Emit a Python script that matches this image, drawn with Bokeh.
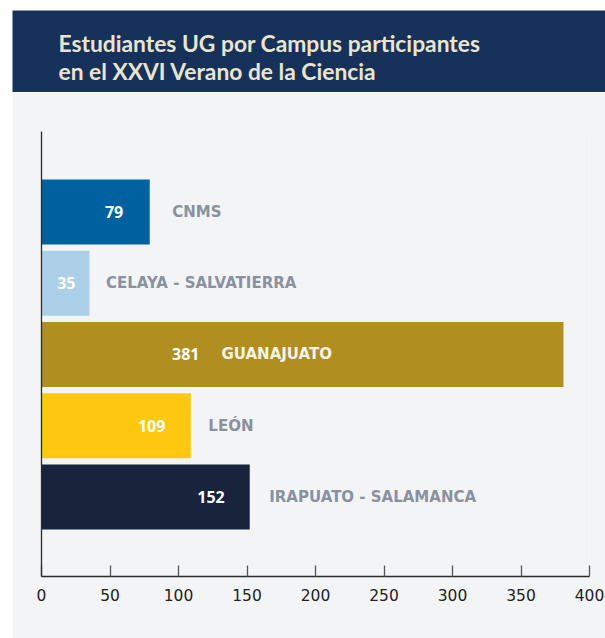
from bokeh.plotting import figure
from bokeh.models import ColumnDataSource, Range1d, FixedTicker, Label, Spacer
from bokeh.layouts import column, row
from bokeh.core.properties import value
from bokeh.embed import file_html
from bokeh.resources import INLINE

# ---- data ----
campus = ["CNMS", "CELAYA - SALVATIERRA", "GUANAJUATO", "LEÓN", "IRAPUATO - SALAMANCA"]
students = [79, 35, 381, 109, 152]
x_ticks = [0, 50, 100, 150, 200, 250, 300, 350, 400]
title_line1 = "Estudiantes UG por Campus participantes"
title_line2 = "en el XXVI Verano de la Ciencia"

# ---- styling ----
bar_colors = ["#0061a1", "#aacfe7", "#b08e1f", "#fec810", "#17243c"]
value_offsets = [-26.5, -14, -364, -25.5, -25]
label_offsets = [22.5, 16.5, -342, 17.5, 19.5]
label_colors = ["#8a919e", "#8a919e", "#f7f3e8", "#8a919e", "#8a919e"]

NAVY = "#17325a"
PANEL = "#f3f4f6"

LEFT_GAP, TOP_GAP = 12, 10
W = 605 - LEFT_GAP
TH = 82            # title band height
H = 638 - TOP_GAP - TH
FL, FR, FT, FB = 29, 16, 39, 62

# ---- title band ----
pt = figure(width=W, height=TH, output_backend="svg", toolbar_location=None,
            x_axis_location=None, y_axis_location=None,
            min_border_left=0, min_border_right=0, min_border_top=0, min_border_bottom=0)
pt.background_fill_color = NAVY
pt.border_fill_color = NAVY
pt.outline_line_color = None
pt.xgrid.visible = False
pt.ygrid.visible = False
for txt, cy in [(title_line1, 32), (title_line2, 60)]:
    pt.add_layout(Label(x=46, y=TH - cy, x_units="screen", y_units="screen",
                        text=txt, text_font="Lato", text_font_style="bold",
                        text_font_size="22.8px", text_color="#ebe4cf",
                        text_baseline="middle", text_align="left"))

# ---- main chart ----
src = ColumnDataSource(dict(
    idx=list(range(len(campus))),
    campus=campus,
    students=students,
    students_txt=[str(v) for v in students],
    color=bar_colors,
    voff=value_offsets,
    loff=label_offsets,
    lcolor=label_colors,
))

p = figure(width=W, height=H, output_backend="svg", toolbar_location=None,
           x_range=Range1d(0, 400), y_range=Range1d(len(campus) - 1 + 1.116, -1.13),
           min_border_left=FL, min_border_right=FR, min_border_top=FT, min_border_bottom=FB)

p.border_fill_color = PANEL
p.background_fill_color = PANEL
p.outline_line_color = None
p.xgrid.visible = False
p.ygrid.visible = False

p.hbar(y="idx", left=0, right="students", height=0.912, fill_color="color",
       line_color=None, source=src)

p.text(x="students", y="idx", text="students_txt", x_offset="voff", source=src,
       text_align="right", text_baseline="middle", text_color="white",
       text_font=value("Open Sans"), text_font_style="bold", text_font_size="16px")
p.text(x="students", y="idx", text="campus", x_offset="loff", source=src,
       text_align="left", text_baseline="middle", text_color="lcolor",
       text_font=value("DejaVu Sans"), text_font_style="bold", text_font_size="15px")

xa = p.xaxis[0]
xa.ticker = FixedTicker(ticks=x_ticks)
xa.major_tick_in = 11
xa.major_tick_out = 0
xa.minor_tick_line_color = None
xa.axis_line_color = "#2b2b2b"
xa.axis_line_width = 1.3
xa.major_tick_line_color = "#555555"
xa.major_tick_line_width = 1.3
xa.major_label_text_font = "DejaVu Sans"
xa.major_label_text_font_size = "15.5px"
xa.major_label_text_color = "#222222"
xa.major_label_standoff = 12

ya = p.yaxis[0]
ya.ticker = FixedTicker(ticks=[])
ya.major_label_text_font_size = "0px"
ya.major_tick_line_color = None
ya.minor_tick_line_color = None
ya.axis_line_color = "#2b2b2b"
ya.axis_line_width = 1.3

layout = column(
    Spacer(width=605, height=TOP_GAP),
    row(Spacer(width=LEFT_GAP, height=TH), pt),
    row(Spacer(width=LEFT_GAP, height=H), p),
)

open("out.html", "w").write(file_html(layout, INLINE))
